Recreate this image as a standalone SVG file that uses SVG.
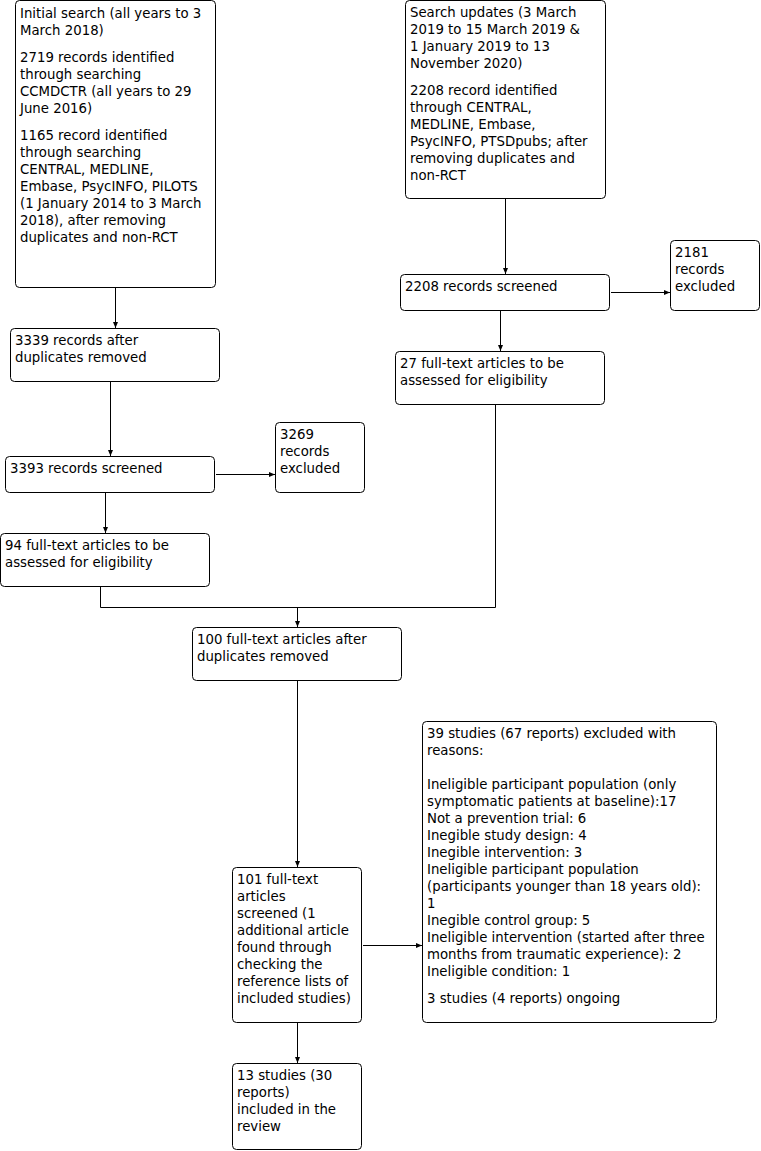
<svg xmlns="http://www.w3.org/2000/svg" width="761" height="1151" viewBox="0 0 761 1151">
<style>
rect.box{fill:#fff;stroke:#000;stroke-width:1}
text{font-family:"DejaVu Sans",Verdana,sans-serif;font-size:13.3px;fill:#000}
.c line,.c polyline{stroke:#000;stroke-width:1;fill:none}
</style>
<defs>
<marker id="ah" markerUnits="userSpaceOnUse" markerWidth="7" markerHeight="6" refX="6" refY="3" orient="auto">
<path d="M0,0.5 L6,3 L0,5.5 z" fill="#000"/>
</marker>
</defs>
<rect width="761" height="1151" fill="#fff"/>
<g class="c" id="connectors">
<line x1="115.5" y1="288" x2="115.5" y2="328" marker-end="url(#ah)"/>
<line x1="110.5" y1="382" x2="110.5" y2="456" marker-end="url(#ah)"/>
<line x1="216" y1="474.5" x2="275" y2="474.5" marker-end="url(#ah)"/>
<line x1="105.5" y1="493" x2="105.5" y2="533" marker-end="url(#ah)"/>
<line x1="505.5" y1="199" x2="505.5" y2="274" marker-end="url(#ah)"/>
<line x1="611" y1="292.5" x2="670" y2="292.5" marker-end="url(#ah)"/>
<line x1="500.5" y1="311" x2="500.5" y2="351" marker-end="url(#ah)"/>
<polyline points="100.5,587 100.5,607.5 495.5,607.5 495.5,405"/>
<line x1="297.5" y1="607.5" x2="297.5" y2="627" marker-end="url(#ah)"/>
<line x1="297.5" y1="681" x2="297.5" y2="867" marker-end="url(#ah)"/>
<line x1="363" y1="945.5" x2="422" y2="945.5" marker-end="url(#ah)"/>
<line x1="297.5" y1="1023" x2="297.5" y2="1063" marker-end="url(#ah)"/>
</g>
<g id="n1">
<rect class="box" x="15.5" y="0.5" width="200" height="287" rx="4"/>
<text x="20"><tspan x="20" y="18">Initial search (all years to 3</tspan><tspan x="20" y="35">March 2018)</tspan><tspan x="20" y="62">2719 records identified</tspan><tspan x="20" y="79">through searching</tspan><tspan x="20" y="96">CCMDCTR (all years to 29</tspan><tspan x="20" y="113">June 2016)</tspan><tspan x="20" y="140">1165 record identified</tspan><tspan x="20" y="157">through searching</tspan><tspan x="20" y="174">CENTRAL, MEDLINE,</tspan><tspan x="20" y="191">Embase, PsycINFO, PILOTS</tspan><tspan x="20" y="208">(1 January 2014 to 3 March</tspan><tspan x="20" y="225">2018), after removing</tspan><tspan x="20" y="242">duplicates and non-RCT</tspan></text>
</g>
<g id="n2">
<rect class="box" x="405.5" y="0.5" width="200" height="198" rx="4"/>
<text><tspan x="410" y="17">Search updates (3 March</tspan><tspan x="410" y="34">2019 to 15 March 2019 &amp;</tspan><tspan x="410" y="51">1 January 2019 to 13</tspan><tspan x="410" y="68">November 2020)</tspan><tspan x="410" y="95">2208 record identified</tspan><tspan x="410" y="112">through CENTRAL,</tspan><tspan x="410" y="129">MEDLINE, Embase,</tspan><tspan x="410" y="146">PsycINFO, PTSDpubs; after</tspan><tspan x="410" y="163">removing duplicates and</tspan><tspan x="410" y="180">non-RCT</tspan></text>
</g>
<g id="n3">
<rect class="box" x="10.5" y="328.5" width="209" height="53" rx="4"/>
<text><tspan x="15" y="345">3339 records after</tspan><tspan x="15" y="362">duplicates removed</tspan></text>
</g>
<g id="n4">
<rect class="box" x="5.5" y="456.5" width="209" height="36" rx="4"/>
<text x="10" y="473">3393 records screened</text>
</g>
<g id="n5">
<rect class="box" x="275.5" y="422.5" width="89" height="70" rx="4"/>
<text><tspan x="280" y="439">3269</tspan><tspan x="280" y="456">records</tspan><tspan x="280" y="473">excluded</tspan></text>
</g>
<g id="n6">
<rect class="box" x="0.5" y="533.5" width="209" height="53" rx="4"/>
<text><tspan x="5" y="550">94 full-text articles to be</tspan><tspan x="5" y="567">assessed for eligibility</tspan></text>
</g>
<g id="n7">
<rect class="box" x="400.5" y="274.5" width="209" height="36" rx="4"/>
<text x="405" y="291">2208 records screened</text>
</g>
<g id="n8">
<rect class="box" x="670.5" y="240.5" width="89" height="70" rx="4"/>
<text><tspan x="675" y="257">2181</tspan><tspan x="675" y="274">records</tspan><tspan x="675" y="291">excluded</tspan></text>
</g>
<g id="n9">
<rect class="box" x="395.5" y="351.5" width="209" height="53" rx="4"/>
<text><tspan x="400" y="368">27 full-text articles to be</tspan><tspan x="400" y="385">assessed for eligibility</tspan></text>
</g>
<g id="n10">
<rect class="box" x="192.5" y="627.5" width="209" height="53" rx="4"/>
<text><tspan x="197" y="644">100 full-text articles after</tspan><tspan x="197" y="661">duplicates removed</tspan></text>
</g>
<g id="n11">
<rect class="box" x="232.5" y="867.5" width="129" height="155" rx="4"/>
<text><tspan x="237" y="884">101 full-text</tspan><tspan x="237" y="901">articles</tspan><tspan x="237" y="918">screened (1</tspan><tspan x="237" y="935">additional article</tspan><tspan x="237" y="952">found through</tspan><tspan x="237" y="969">checking the</tspan><tspan x="237" y="986">reference lists of</tspan><tspan x="237" y="1003">included studies)</tspan></text>
</g>
<g id="n12">
<rect class="box" x="422.5" y="721.5" width="294" height="301" rx="4"/>
<text><tspan x="427" y="738">39 studies (67 reports) excluded with</tspan><tspan x="427" y="755">reasons:</tspan><tspan x="427" y="789">Ineligible participant population (only</tspan><tspan x="427" y="806">symptomatic patients at baseline):17</tspan><tspan x="427" y="823">Not a prevention trial: 6</tspan><tspan x="427" y="840">Inegible study design: 4</tspan><tspan x="427" y="857">Inegible intervention: 3</tspan><tspan x="427" y="874">Ineligible participant population</tspan><tspan x="427" y="891">(participants younger than 18 years old):</tspan><tspan x="427" y="908">1</tspan><tspan x="427" y="925">Inegible control group: 5</tspan><tspan x="427" y="942">Ineligible intervention (started after three</tspan><tspan x="427" y="959">months from traumatic experience): 2</tspan><tspan x="427" y="976">Ineligible condition: 1</tspan><tspan x="427" y="1003">3 studies (4 reports) ongoing</tspan></text>
</g>
<g id="n13">
<rect class="box" x="232.5" y="1063.5" width="129" height="86" rx="4"/>
<text><tspan x="237" y="1080">13 studies (30</tspan><tspan x="237" y="1097">reports)</tspan><tspan x="237" y="1114">included in the</tspan><tspan x="237" y="1131">review</tspan></text>
</g>
</svg>
